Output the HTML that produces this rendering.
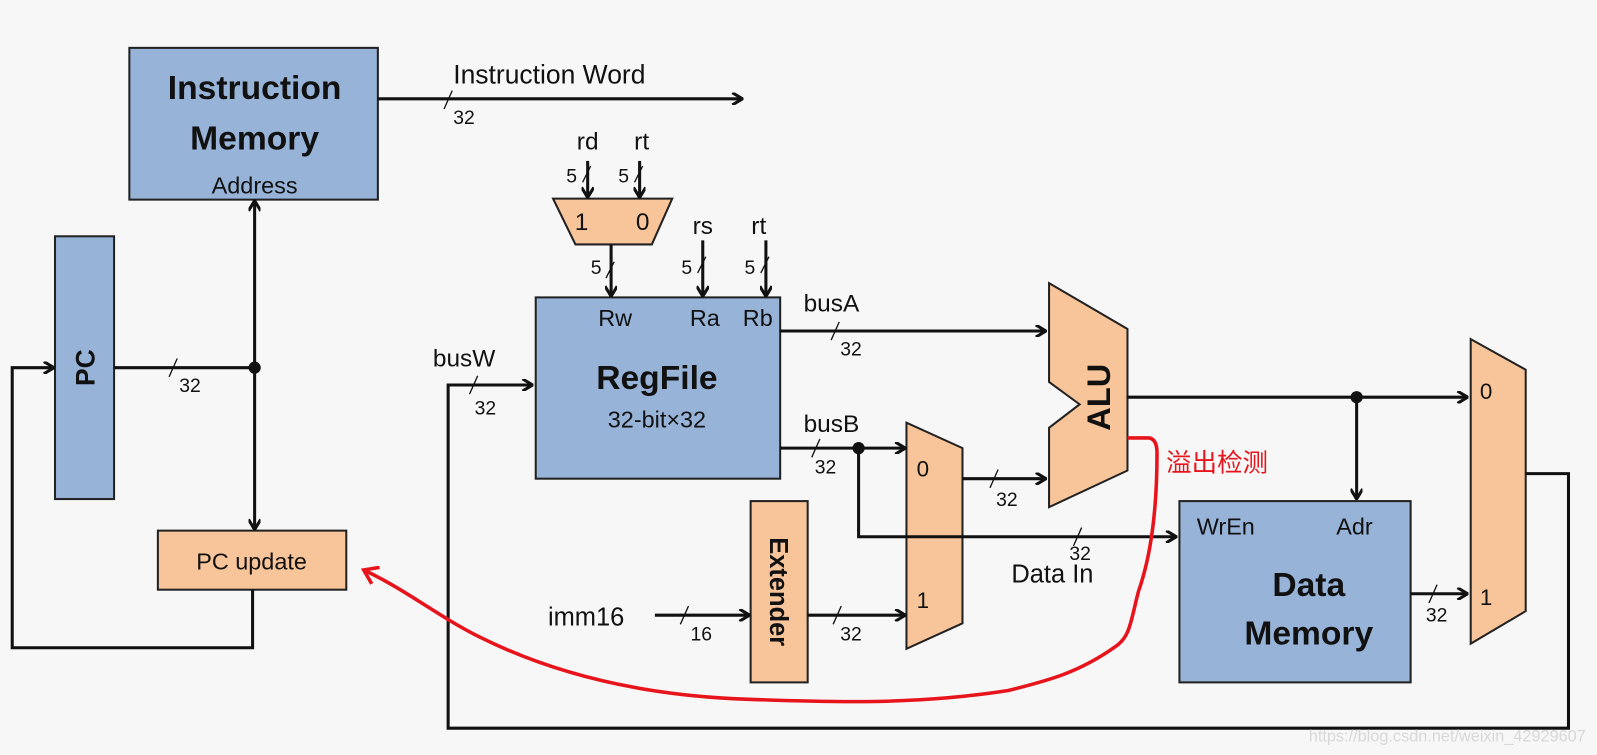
<!DOCTYPE html>
<html><head><meta charset="utf-8"><style>
html,body{margin:0;padding:0;background:#f7f7f7}
svg{display:block}
text{font-family:"Liberation Sans","Noto Sans CJK SC",sans-serif;fill:#111}
.b{font-weight:bold}
</style></head><body>
<svg width="1597" height="755" viewBox="0 0 1568 741.3" preserveAspectRatio="none" xmlns="http://www.w3.org/2000/svg">
<defs>
<marker id="a" markerWidth="12" markerHeight="12" refX="10" refY="6" orient="auto" markerUnits="userSpaceOnUse">
<path d="M1,0 L11,6 L1,12" fill="none" stroke="#111" stroke-width="3"/>
</marker>
<marker id="r" markerWidth="20" markerHeight="20" refX="15" refY="10" orient="auto" markerUnits="userSpaceOnUse">
<path d="M3,1 L16,10 L3,19" fill="none" stroke="#e8141c" stroke-width="3.5"/>
</marker>
</defs>
<rect width="1568" height="742" fill="#f7f7f7"/>
<g stroke="#222" stroke-width="2">
<rect x="127" y="47" width="244" height="149" fill="#97b3d8"/>
<rect x="54" y="232" width="58" height="258" fill="#97b3d8"/>
<rect x="155" y="521" width="185" height="58" fill="#f8c49a"/>
<polygon points="543,195 660,195 640,240 565,240" fill="#f8c49a"/>
<rect x="526" y="292" width="240" height="178" fill="#97b3d8"/>
<polygon points="890,415 945,440 945,612 890,637" fill="#f8c49a"/>
<rect x="737" y="492" width="56" height="178" fill="#f8c49a"/>
<polygon points="1030,278 1107,323 1107,462 1030,498 1030,420 1060,397 1030,375" fill="#f8c49a"/>
<rect x="1158" y="492" width="227" height="178" fill="#97b3d8"/>
<polygon points="1444,333 1498,363 1498,600 1444,632" fill="#f8c49a"/>
</g>
<g stroke="#111" stroke-width="3" fill="none">
<line x1="371" y1="97" x2="728" y2="97" marker-end="url(#a)"/>
<line x1="112" y1="361" x2="250" y2="361"/>
<line x1="250" y1="361" x2="250" y2="198" marker-end="url(#a)"/>
<line x1="250" y1="361" x2="250" y2="519" marker-end="url(#a)"/>
<polyline points="248,579 248,636 12,636 12,361 52,361" marker-end="url(#a)"/>
<line x1="577" y1="158" x2="577" y2="193" marker-end="url(#a)"/>
<line x1="628" y1="158" x2="628" y2="193" marker-end="url(#a)"/>
<line x1="600" y1="240" x2="600" y2="290" marker-end="url(#a)"/>
<line x1="690" y1="236" x2="690" y2="290" marker-end="url(#a)"/>
<line x1="752" y1="236" x2="752" y2="290" marker-end="url(#a)"/>
<polyline points="1498,465 1540,465 1540,715 440,715 440,378 522,378" marker-end="url(#a)"/>
<line x1="766" y1="325" x2="1026" y2="325" marker-end="url(#a)"/>
<line x1="766" y1="440" x2="888" y2="440" marker-end="url(#a)"/>
<polyline points="843,440 843,527 1154,527" marker-end="url(#a)"/>
<line x1="945" y1="470" x2="1026" y2="470" marker-end="url(#a)"/>
<line x1="643" y1="604" x2="735" y2="604" marker-end="url(#a)"/>
<line x1="793" y1="604" x2="888" y2="604" marker-end="url(#a)"/>
<line x1="1107" y1="390" x2="1440" y2="390" marker-end="url(#a)"/>
<line x1="1332" y1="390" x2="1332" y2="489" marker-end="url(#a)"/>
<line x1="1385" y1="583" x2="1440" y2="583" marker-end="url(#a)"/>
</g>
<g stroke="#111" stroke-width="1.3">
<line x1="436" y1="107" x2="444" y2="89"/>
<line x1="166" y1="370" x2="174" y2="352"/>
<line x1="572" y1="179" x2="580" y2="163"/>
<line x1="623" y1="179" x2="631" y2="163"/>
<line x1="595" y1="273" x2="603" y2="257"/>
<line x1="685" y1="268" x2="693" y2="252"/>
<line x1="747" y1="268" x2="755" y2="252"/>
<line x1="461" y1="387" x2="469" y2="369"/>
<line x1="816" y1="334" x2="824" y2="316"/>
<line x1="797" y1="449" x2="805" y2="431"/>
<line x1="972" y1="479" x2="980" y2="461"/>
<line x1="1054" y1="536" x2="1062" y2="518"/>
<line x1="668" y1="613" x2="676" y2="595"/>
<line x1="818" y1="613" x2="826" y2="595"/>
<line x1="1403" y1="592" x2="1411" y2="574"/>
</g>
<g fill="#111">
<circle cx="250" cy="361" r="6"/>
<circle cx="843" cy="440" r="6"/>
<circle cx="1332" cy="390" r="6"/>
</g>
<text x="250" y="97" font-size="33" class="b" text-anchor="middle">Instruction</text>
<text x="250" y="147" font-size="33" class="b" text-anchor="middle">Memory</text>
<text x="250" y="190" font-size="23" text-anchor="middle">Address</text>
<text x="445" y="82" font-size="26">Instruction Word</text>
<text x="445" y="122" font-size="19">32</text>
<text transform="translate(93,361) rotate(-90)" font-size="26" class="b" text-anchor="middle">PC</text>
<text x="176" y="385" font-size="19">32</text>
<text x="247" y="559" font-size="23" text-anchor="middle">PC update</text>
<text x="577" y="147" font-size="24" text-anchor="middle">rd</text>
<text x="630" y="147" font-size="24" text-anchor="middle">rt</text>
<text x="556" y="179" font-size="19">5</text>
<text x="607" y="179" font-size="19">5</text>
<text x="571" y="226" font-size="24" text-anchor="middle">1</text>
<text x="631" y="226" font-size="24" text-anchor="middle">0</text>
<text x="580" y="269" font-size="19">5</text>
<text x="690" y="230" font-size="24" text-anchor="middle">rs</text>
<text x="745" y="230" font-size="24" text-anchor="middle">rt</text>
<text x="669" y="269" font-size="19">5</text>
<text x="731" y="269" font-size="19">5</text>
<text x="604" y="320" font-size="23" text-anchor="middle">Rw</text>
<text x="692" y="320" font-size="23" text-anchor="middle">Ra</text>
<text x="744" y="320" font-size="23" text-anchor="middle">Rb</text>
<text x="645" y="382" font-size="33" class="b" text-anchor="middle">RegFile</text>
<text x="645" y="420" font-size="23" text-anchor="middle">32-bit×32</text>
<text x="425" y="360" font-size="24">busW</text>
<text x="466" y="407" font-size="19">32</text>
<text x="789" y="306" font-size="24">busA</text>
<text x="825" y="349" font-size="19">32</text>
<text x="789" y="424" font-size="24">busB</text>
<text x="800" y="465" font-size="19">32</text>
<text x="900" y="468" font-size="22">0</text>
<text x="900" y="597" font-size="22">1</text>
<text x="978" y="497" font-size="19">32</text>
<text transform="translate(756,581) rotate(90)" font-size="25" class="b" text-anchor="middle">Extender</text>
<text x="538" y="614" font-size="25">imm16</text>
<text x="678" y="629" font-size="19">16</text>
<text x="825" y="629" font-size="19">32</text>
<text transform="translate(1090,390) rotate(-90)" font-size="32" class="b" text-anchor="middle">ALU</text>
<text x="1050" y="550" font-size="19">32</text>
<text x="993" y="572" font-size="25">Data In</text>
<text x="1175" y="525" font-size="23">WrEn</text>
<text x="1312" y="525" font-size="23">Adr</text>
<text x="1285" y="585" font-size="33" class="b" text-anchor="middle">Data</text>
<text x="1285" y="633" font-size="33" class="b" text-anchor="middle">Memory</text>
<text x="1400" y="610" font-size="19">32</text>
<text x="1453" y="392" font-size="22">0</text>
<text x="1453" y="594" font-size="22">1</text>
<path d="M1107,430 L1128,430 Q1136,431 1136,445 C1136,520 1125,560 1118,580 C1110,610 1110,625 1095,635 C1060,660 1030,668 990,678 C900,692 820,690 720,686 C600,680 520,650 470,625 C430,605 400,580 358,560" fill="none" stroke="#e8141c" stroke-width="3.5" marker-end="url(#r)"/>
<text x="1145" y="463" font-size="25" style="fill:#e8141c">溢出检测</text>
<text x="1285" y="728" font-size="16" style="fill:#d8d8d8">https://blog.csdn.net/weixin_42929607</text>
</svg>
</body></html>
